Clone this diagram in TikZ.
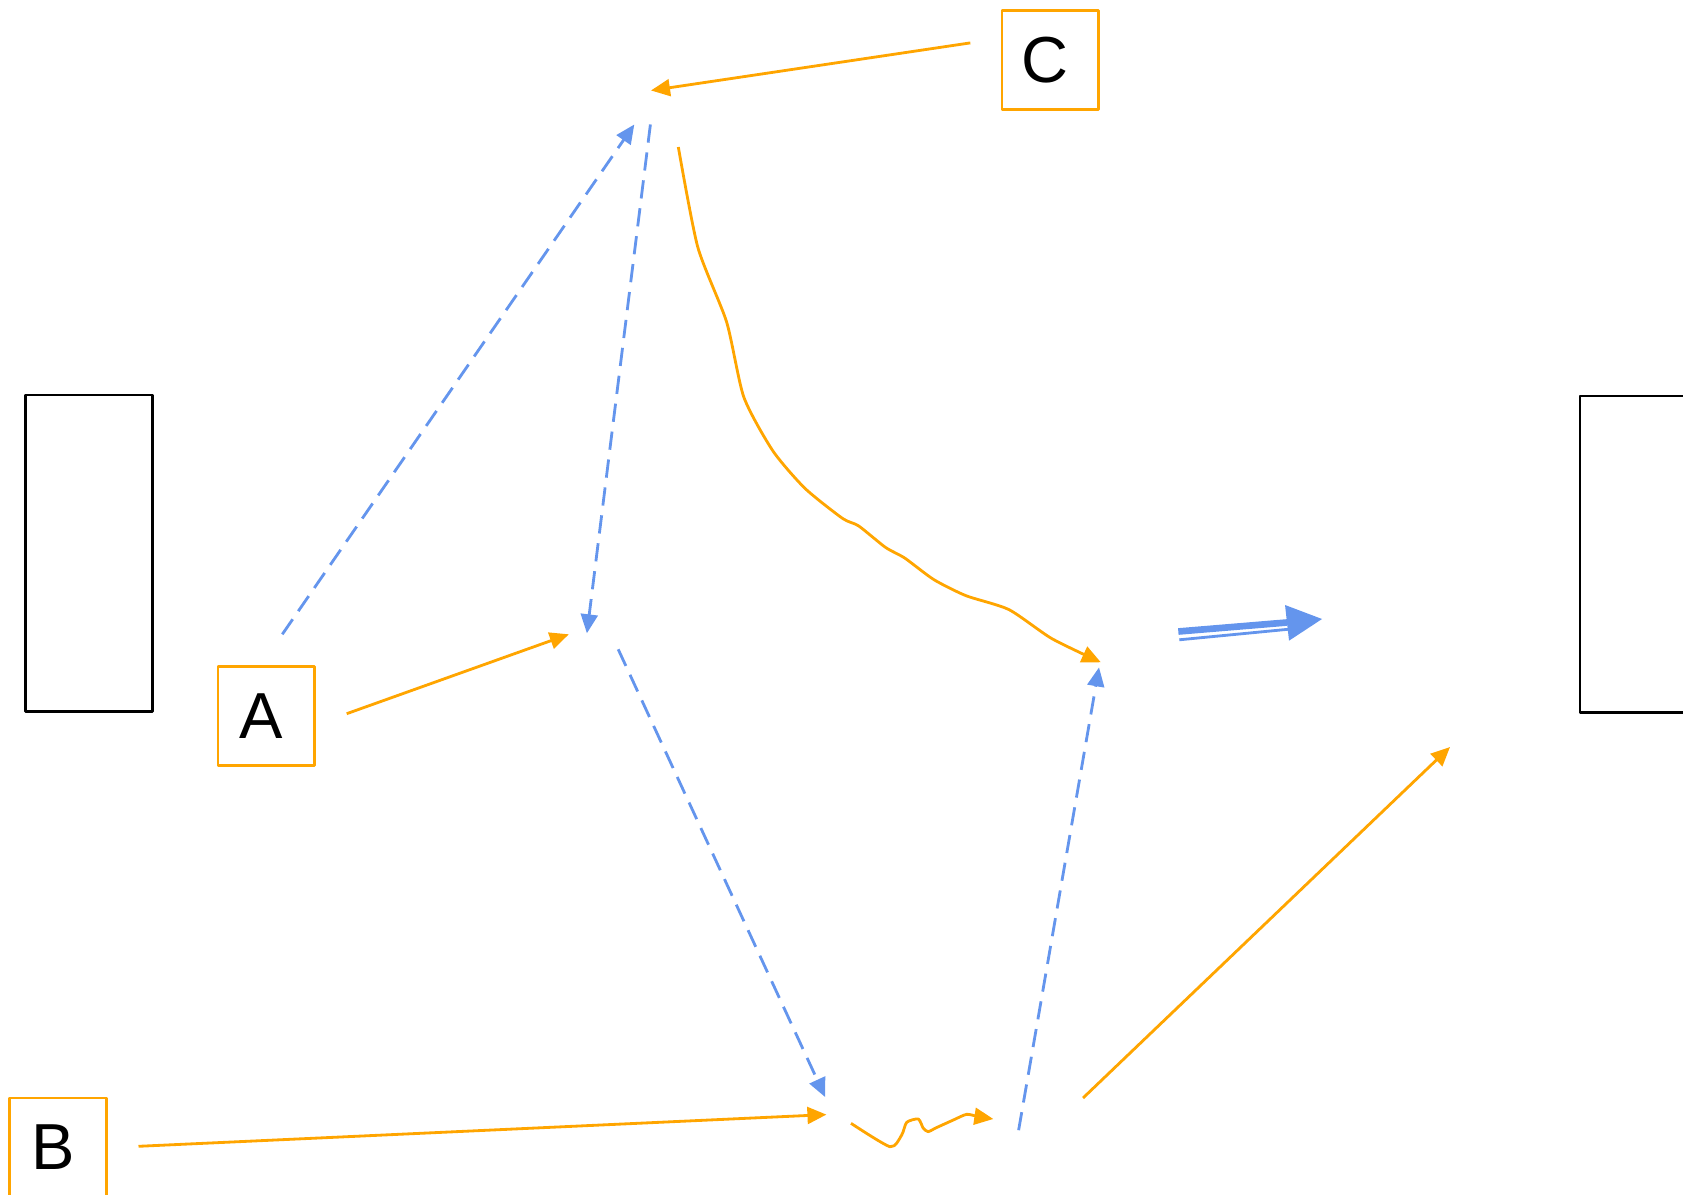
\documentclass[tikz,border=0pt]{standalone}
\usepackage{fontspec}
\setmainfont{Liberation Sans}
\usetikzlibrary{arrows.meta}
\definecolor{orng}{HTML}{FFA500}
\definecolor{blu}{HTML}{6495ED}
\begin{document}
\begin{tikzpicture}[x=0.01cm, y=-0.01cm, >={Triangle[length=5.4pt,width=4.8pt]}, line join=round,
	lbox/.style={draw=orng, line width=0.75pt, minimum width=0.966cm, minimum height=0.988cm, inner sep=0pt, font=\fontsize{18.5}{20}\selectfont},
	side/.style={draw=black, line width=0.75pt, minimum width=1.266cm, minimum height=3.166cm, inner sep=0pt},
	oarr/.style={->, orng, line width=0.8pt},
	barr/.style={->, blu, line width=0.8pt, dash pattern=on 5.2pt off 2.8pt}]
	\useasboundingbox (0,0) rectangle (1683,1195);
	% boxes
	\node[side] (L) at (89.1,553.3) {};
	\node[side] (R) at (1643.3,554.3) {};
	\node[lbox] (A) at (266.2,715.9) {\hspace{-3pt}A};
	\node[lbox] (B) at (58,1147.4) {\hspace{-3pt}B};
	\node[lbox] (C) at (1050.3,60.1) {\hspace{-3pt}C};
	% free ends
	\coordinate (c0) at (970.3,42.9);  \coordinate (c1) at (651,90.5);
	\coordinate (a0) at (346.7,713.7); \coordinate (a1) at (568.8,634.3);
	\coordinate (b0) at (138.5,1146.3); \coordinate (b1) at (826.4,1114.6);
	\coordinate (p0) at (1083,1098);   \coordinate (p1) at (1450,747);
	\coordinate (u0) at (282.3,634.3); \coordinate (u1) at (634.3,124.5);
	\coordinate (d0) at (650.4,124.5); \coordinate (d1) at (586.9,633.3);
	\coordinate (s0) at (618.2,649.3); \coordinate (s1) at (825.2,1097.1);
	\coordinate (r0) at (1018.6,1130.2); \coordinate (r1) at (1099,667.4);
	\coordinate (t0) at (1178.3,631.5); \coordinate (t1) at (1287,622.5);
	\coordinate (n0) at (1179.3,639.8); \coordinate (n1) at (1288,629.3);
	\coordinate (h) at (1322,619);
	% orange arrows
	\draw[oarr] (c0)--(c1);
	\draw[oarr] (a0)--(a1);
	\draw[oarr] (b0)--(b1);
	\draw[oarr] (p0)--(p1);
	\draw[oarr] plot[smooth, tension=0.4] coordinates {(678.3,147) (697.7,246.9) (726.6,322) (743.8,397.1) (772.8,450.8) (805,488.4) (842.5,518.4) (858.6,525.9) (885.5,547.4) (904.8,558.1) (933.8,579.6) (966,595.7) (1008.9,609.6) (1051.8,638.6) (1100.8,662.3)};
	\draw[oarr] plot[smooth, tension=0.4] coordinates {(851,1123.3) (890,1146.7) (901.7,1135) (906.7,1122.3) (918.3,1119) (923.3,1128.3) (928.3,1131.7) (935,1128.3) (953.3,1120) (966.7,1114.3) (978.3,1116.7) (993.3,1119)};
	% blue dashed arrows
	\draw[barr] (u0)--(u1);
	\draw[barr] (d0)--(d1);
	\draw[barr] (s0)--(s1);
	\draw[barr] (r0)--(r1);
	% double arrow
	\draw[blu, line width=1.9pt] (t0)--(t1);
	\draw[blu, line width=0.8pt] (n0)--(n1);
	\fill[blu] (h)--(1285,605)--(1289,640.7)--cycle;
\end{tikzpicture}
\end{document}
